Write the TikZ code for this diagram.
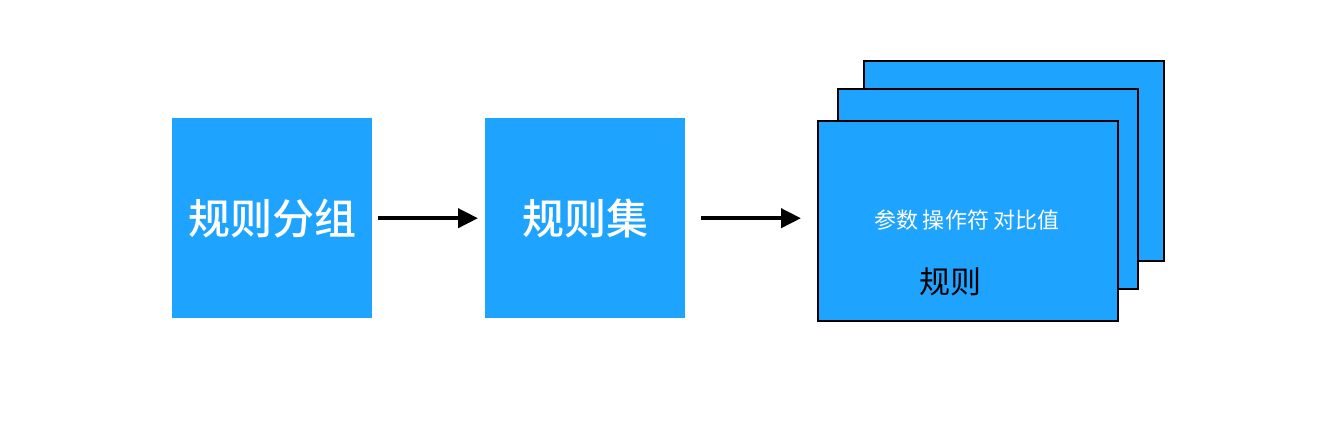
\documentclass[tikz,border=0pt]{standalone}
\usepackage{fontspec}
\newfontfamily\cjk{Noto Sans CJK SC}
\newfontfamily\cjkmed{Noto Sans CJK SC Medium}
\usetikzlibrary{arrows.meta}
\definecolor{boxblue}{HTML}{1EA3FF}
\tikzset{
  plainbox/.style={fill=boxblue, draw=none, minimum width=200pt, minimum height=200pt, inner sep=0pt, anchor=north west},
  stackbox/.style={fill=boxblue, draw=black, line width=2pt, minimum width=300pt, minimum height=200pt, inner sep=0pt, anchor=north west},
  flow/.style={line width=4pt, -{Triangle[length=20pt,width=19pt]}},
  biglabel/.style={text=white, font=\cjkmed\fontsize{42}{48}\selectfont, inner sep=0pt}
}
\begin{document}
\begin{tikzpicture}[x=1pt,y=-1pt]
\useasboundingbox (0,0) rectangle (1332,420);
\node[plainbox] (g) at (172,118) {};
\node[biglabel] at (g.center) {规则分组};
\node[plainbox] (s) at (485,118) {};
\node[biglabel] at (s.center) {规则集};
\node[stackbox] (r3) at (863,60) {};
\node[stackbox] (r2) at (837,88) {};
\node[stackbox] (r1) at (817,120) {};
\node[text=white, font=\cjk\fontsize{22}{26}\selectfont, inner sep=0pt] (p) at (967,220) {参数 操作符 对比值};
\node[text=black, font=\cjk\fontsize{31}{36}\selectfont, inner sep=0pt] (rl) at (950,282) {规则};
\draw[flow] ([xshift=6pt]g.east) -- ([xshift=-7pt]s.west);
\draw[flow] ([xshift=16pt]s.east) -- ([xshift=-16pt]r1.west |- s.east);
\end{tikzpicture}
\end{document}
